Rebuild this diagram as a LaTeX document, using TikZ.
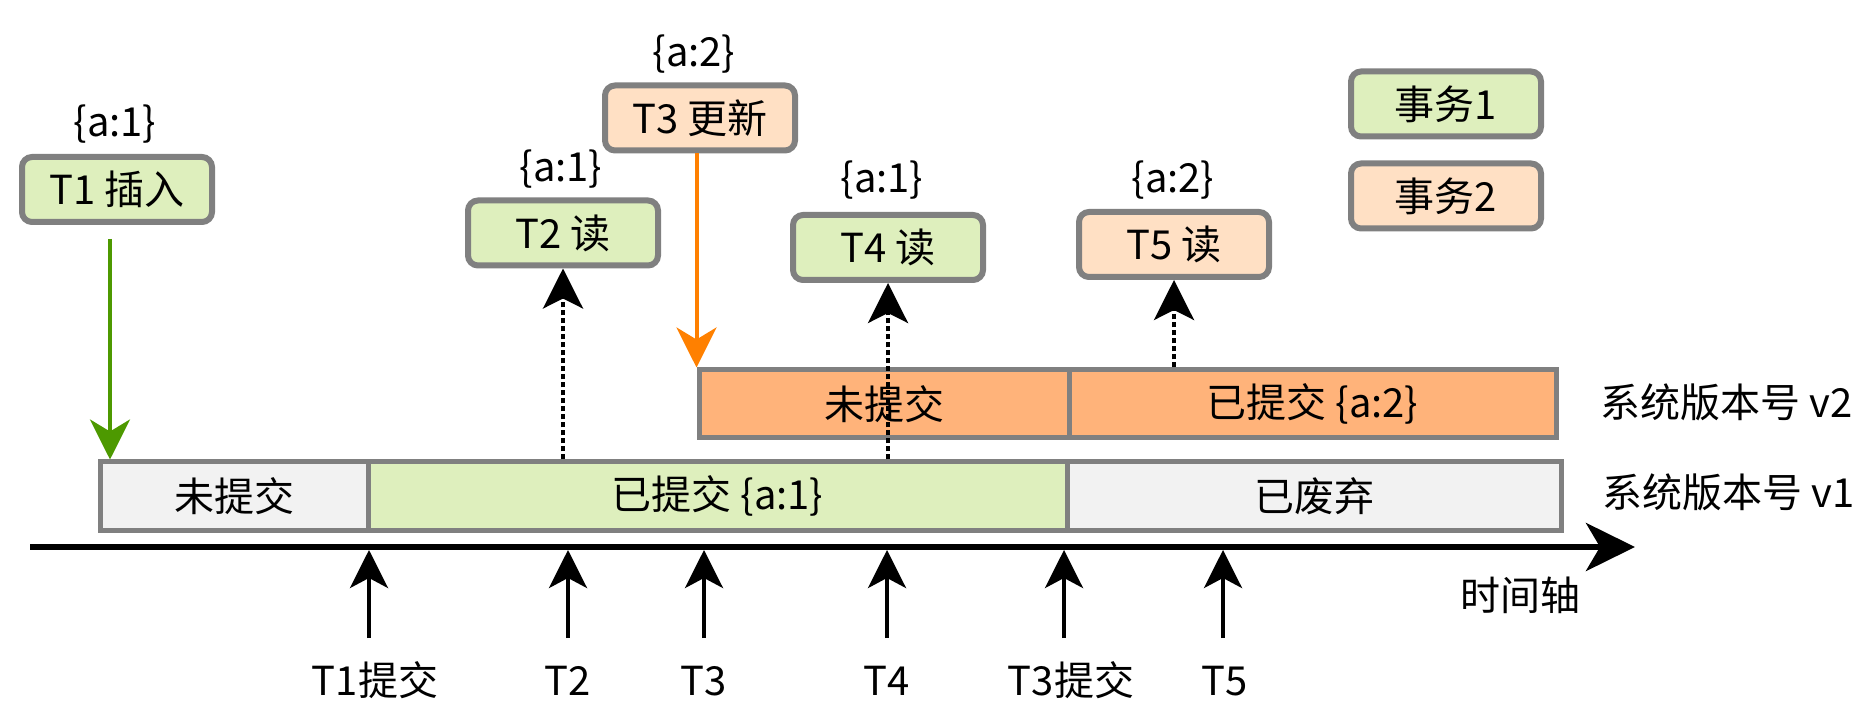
\documentclass[tikz,border=0pt]{standalone}
\usepackage{fontspec}
\setmainfont{Noto Sans CJK SC}
\usetikzlibrary{arrows.meta}
\definecolor{txgreen}{RGB}{222,239,189}
\definecolor{txorange}{RGB}{255,224,196}
\definecolor{barorange}{RGB}{255,179,122}
\definecolor{bargray}{RGB}{242,242,242}
\definecolor{edgegray}{RGB}{128,128,128}
\definecolor{insertgreen}{RGB}{77,153,0}
\definecolor{updateorange}{RGB}{255,128,0}

\begin{document}
\begin{tikzpicture}[x=0.5pt,y=-0.5pt,
  every node/.style={font=\fontsize{20pt}{24pt}\selectfont, inner sep=0pt},
  txbox/.style={draw=edgegray, line width=3pt, rounded corners=5pt,
    minimum width=95pt, minimum height=32.5pt},
  bar/.style={draw=edgegray, line width=2.5pt, minimum height=34pt},
  version/.style={anchor=base},
  ticklabel/.style={anchor=base},
  tickarrow/.style={line width=2pt, -{Stealth[length=19pt,width=19pt,inset=5pt]}},
  readarrow/.style={line width=2pt, dash pattern=on 2.5pt off 1.5pt,
    -{Stealth[length=20pt,width=20pt,inset=5pt]}},
  writearrow/.style={line width=2pt, -{Stealth[length=20pt,width=20pt,inset=6pt]}},
  axisline/.style={line width=3pt, -{Stealth[length=24.5pt,width=24pt,inset=7pt]}}
]
\useasboundingbox (0,0) rectangle (1858,716);

% transaction boxes
\node[txbox, fill=txgreen]  (t1) at (117,189.5) {T1 插入};
\node[txbox, fill=txgreen]  (t2) at (563,233)   {T2 读};
\node[txbox, fill=txorange] (t3) at (700,118)   {T3 更新};
\node[txbox, fill=txgreen]  (t4) at (888,247.5) {T4 读};
\node[txbox, fill=txorange] (t5) at (1174,244.5) {T5 读};

% legend
\node[txbox, fill=txgreen]  (lg1) at (1446,104) {事务1};
\node[txbox, fill=txorange] (lg2) at (1446,196) {事务2};

% values seen by each transaction
\node[version] (v1val) at (115,137) {\{a:1\}};
\node[version] (v2val) at (561,182) {\{a:1\}};
\node[version] (v3val) at (694,67)  {\{a:2\}};
\node[version] (v4val) at (882,193) {\{a:1\}};
\node[version] (v5val) at (1173,193) {\{a:2\}};

% version v1 row
\node[bar, fill=bargray, minimum width=134pt]   (v1a) at (234,496)    {未提交};
\node[bar, fill=txgreen, minimum width=349.5pt] (v1b) at (717.5,496)  {已提交 \{a:1\}};
\node[bar, fill=bargray, minimum width=247pt]   (v1c) at (1314,496)   {已废弃};

% version v2 row
\node[bar, fill=barorange, minimum width=185pt]   (v2a) at (884,404)    {未提交};
\node[bar, fill=barorange, minimum width=243.5pt] (v2b) at (1312.5,404) {已提交 \{a:2\}};

% row captions
\node[anchor=west] (cap2) at (1600,402) {系统版本号 v2};
\node[anchor=west] (cap1) at (1602,492) {系统版本号 v1};

% write arrows
\draw[writearrow, insertgreen, shorten <=7pt]
  ([xshift=-3.5pt]t1.south) -- ([xshift=-3.5pt]t1.south |- v1a.north);
\draw[writearrow, updateorange] (t3.south -| v2a.west) -- (v2a.north west);

% read arrows
\draw[readarrow] (t2.south |- v1b.north) -- (t2.south);
\draw[readarrow] (t4.south |- v1b.north) -- (t4.south);
\draw[readarrow] (t5.south |- v2b.north) -- (t5.south);

% time axis
\coordinate (ax0) at (30,547);
\coordinate (ax1) at (1635,547);
\draw[axisline] (ax0) -- (ax1);
\node (axcap) at (1520,595) {时间轴};

% event ticks
\coordinate (k1) at (369,638);
\coordinate (k2) at (568,638);
\coordinate (k3) at (704,638);
\coordinate (k4) at (887,638);
\coordinate (k5) at (1064,638);
\coordinate (k6) at (1223,638);
\foreach \k in {k1,k2,k3,k4,k5,k6}
  \draw[tickarrow] (\k) -- ([yshift=-1.5pt]\k |- ax0);

\node[ticklabel] (l1) at (375,695)  {T1提交};
\node[ticklabel] (l2) at (568,695)  {T2};
\node[ticklabel] (l3) at (704,695)  {T3};
\node[ticklabel] (l4) at (887,695)  {T4};
\node[ticklabel] (l5) at (1071,695) {T3提交};
\node[ticklabel] (l6) at (1225,695) {T5};
\end{tikzpicture}
\end{document}
